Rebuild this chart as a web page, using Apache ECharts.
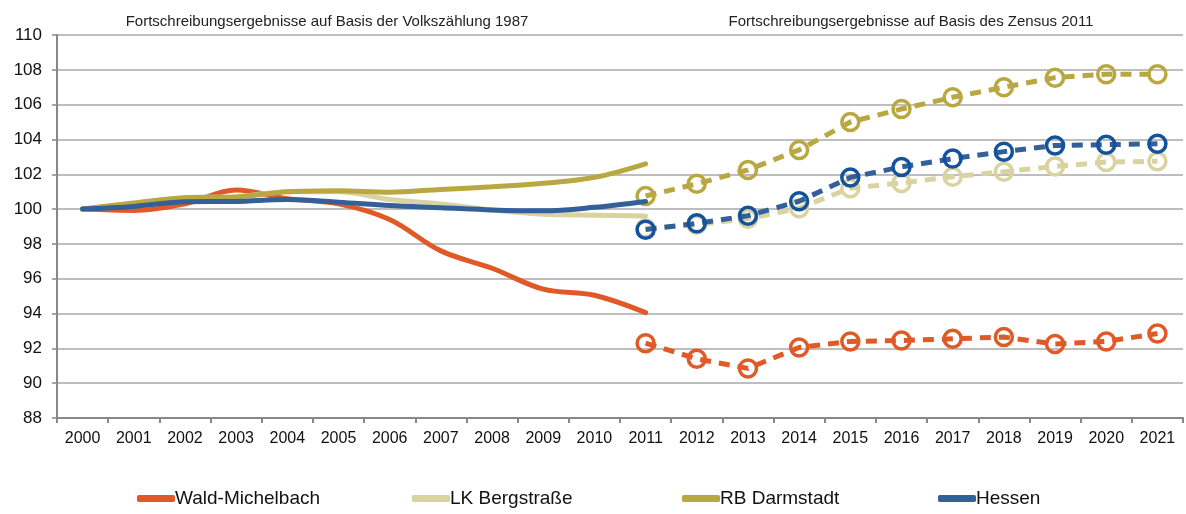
<!DOCTYPE html>
<html>
<head>
<meta charset="utf-8">
<script src="https://cdn.jsdelivr.net/npm/echarts@6/dist/echarts.min.js"></script>
<style>
html,body{margin:0;padding:0;background:#fff;}
#chart{width:1186px;height:514px;}
</style>
</head>
<body>
<div id="chart"></div>
<script>
// Jahre (x-Achse)
var years = ['2000','2001','2002','2003','2004','2005','2006','2007','2008','2009','2010','2011',
             '2012','2013','2014','2015','2016','2017','2018','2019','2020','2021'];

// Fortschreibung Basis Volkszählung 1987 (2000-2011)
var wmAlt   = [100, 99.92, 100.3, 101.1, 100.6, 100.3, 99.4, 97.6, 96.6, 95.4, 95.05, 94.05];
var lkAlt   = [100, 100.3, 100.65, 100.7, 101.0, 101.0, 100.55, 100.3, 99.95, 99.7, 99.65, 99.6];
var rbAlt   = [100, 100.35, 100.65, 100.7, 101.0, 101.06, 100.97, 101.13, 101.28, 101.48, 101.82, 102.6];
var heAlt   = [100, 100.15, 100.42, 100.44, 100.55, 100.4, 100.2, 100.08, 99.95, 99.9, 100.1, 100.44];

// Fortschreibung Basis Zensus 2011 (2011-2021)
var wmNeu   = [92.3, 91.4, 90.85, 92.05, 92.4, 92.45, 92.55, 92.65, 92.25, 92.4, 92.85];
var lkNeu   = [98.9, 99.1, 99.45, 100.05, 101.2, 101.5, 101.86, 102.15, 102.45, 102.7, 102.75];
var rbNeu   = [100.75, 101.45, 102.25, 103.4, 105.0, 105.75, 106.42, 107.0, 107.55, 107.75, 107.75];
var heNeu   = [98.82, 99.18, 99.62, 100.45, 101.82, 102.42, 102.9, 103.3, 103.65, 103.7, 103.75];

var names  = ['Wald-Michelbach', 'LK Bergstraße', 'RB Darmstadt', 'Hessen'];
var farben = ['#e05a27', '#d9d3a2', '#b9a842', '#34609a'];
var kreis  = ['#e05a27', '#d9d3a2', '#b9a842', '#13529c'];
var legLeft = [137, 412, 682, 938];

function alt(arr){ // 2000-2011, Rest leer
  var out = arr.slice();
  while(out.length < years.length) out.push('-');
  return out;
}
function neu(arr){ // ab 2011
  var out = [];
  for(var i=0;i<years.length-arr.length;i++) out.push('-');
  return out.concat(arr);
}

var altDaten = [wmAlt, lkAlt, rbAlt, heAlt];
var neuDaten = [wmNeu, lkNeu, rbNeu, heNeu];

var series = [];
for(var i=0;i<names.length;i++){
  series.push({
    name: names[i],
    type: 'line',
    smooth: 0.35,
    symbol: 'none',
    data: alt(altDaten[i]),
    lineStyle: {color: farben[i], width: 5, cap: 'round'},
    itemStyle: {color: farben[i]},
    z: 2 + i
  });
}
for(var i=0;i<names.length;i++){
  series.push({
    name: names[i],
    type: 'line',
    symbol: 'circle',
    symbolSize: 17,
    data: neu(neuDaten[i]),
    lineStyle: {color: farben[i], width: 5, type: [11, 8], cap: 'butt'},
    itemStyle: {color: 'rgba(255,255,255,0)', borderColor: kreis[i], borderWidth: 3.5},
    z: 2 + i
  });
}

// eine Legende je Eintrag, damit die Abstände stimmen
var legends = names.map(function(n, i){
  return {
    top: 489,
    left: legLeft[i],
    padding: 0,
    itemWidth: 38,
    itemHeight: 7,
    icon: 'roundRect',
    textStyle: {fontSize: 19, color: '#111', padding: [0,0,0,-5]},
    data: [{name: n, itemStyle: {color: farben[i], borderWidth: 0}, lineStyle: {width: 0}}]
  };
});

var chart = echarts.init(document.getElementById('chart'));
var option = {
  animation: false,
  textStyle: {fontFamily: 'Liberation Sans, Arial, sans-serif'},
  title: [
    {text: 'Fortschreibungsergebnisse auf Basis der Volkszählung 1987', left: 322, top: 9, textAlign: 'center',
     textStyle: {fontSize: 15, fontWeight: 'normal', color: '#222'}},
    {text: 'Fortschreibungsergebnisse auf Basis des Zensus 2011', left: 906, top: 9, textAlign: 'center',
     textStyle: {fontSize: 15, fontWeight: 'normal', color: '#222'}}
  ],
  grid: {left: 57, right: 3, top: 35, bottom: 96, containLabel: false},
  legend: legends,
  xAxis: {
    type: 'category',
    data: years,
    boundaryGap: true,
    axisLine: {lineStyle: {color: '#888', width: 2}},
    axisTick: {show: true, length: 5, lineStyle: {color: '#888', width: 2}},
    axisLabel: {fontSize: 16, color: '#111', margin: 13, interval: 0}
  },
  yAxis: {
    type: 'value',
    min: 88,
    max: 110,
    interval: 2,
    axisLine: {show: true, lineStyle: {color: '#888', width: 2}},
    axisTick: {show: true, length: 5, lineStyle: {color: '#888', width: 1.5}},
    axisLabel: {fontSize: 17, color: '#111', margin: 15},
    splitLine: {lineStyle: {color: '#a8a8a8', width: 1.5}}
  },
  series: series
};
chart.setOption(option);
</script>
</body>
</html>
